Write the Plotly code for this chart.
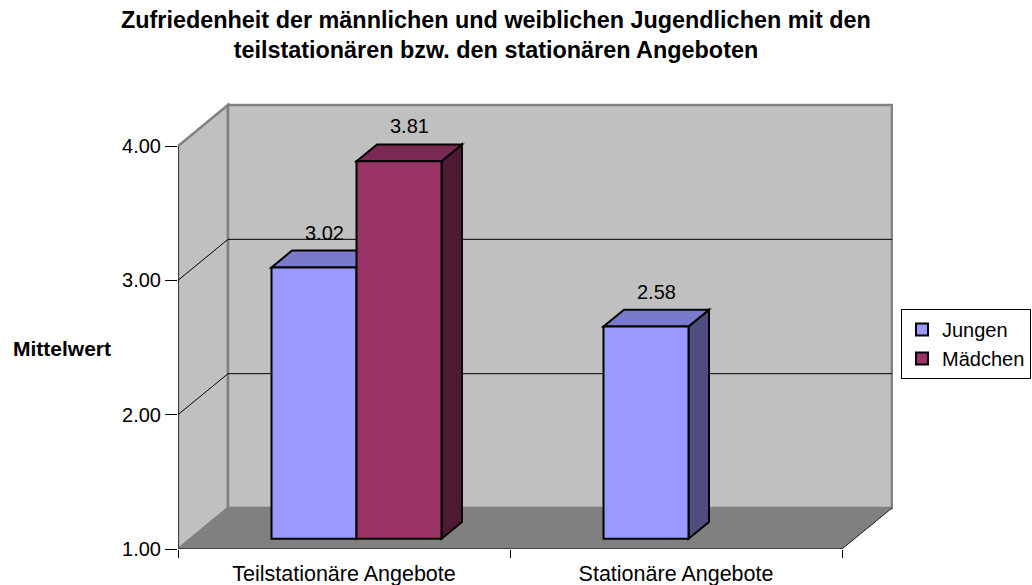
import plotly.graph_objects as go

# ---------------- data ----------------
categories = ["Teilstationäre Angebote", "Stationäre Angebote"]
series_names = ["Jungen", "Mädchen"]
jungen = [3.02, 2.58]
maedchen = [3.81, None]
y_ticks = [1, 2, 3, 4]
title_lines = ["Zufriedenheit der männlichen und weiblichen Jugendlichen mit den",
               "teilstationären bzw. den stationären Angeboten"]
y_title = "Mittelwert"

# ---------------- styling / geometry ----------------
W, H = 1032, 585
ML, MR, MT, MB = 178, 139, 102, 36
PX_CAT = 332.0          # pixels per category on the front plane
PX_UNIT = 134.33        # pixels per value unit
plot_w = W - ML - MR
plot_h = H - MT - MB
x_min = -0.5
x_max = x_min + plot_w / PX_CAT
y_min = 1.0
y_max = y_min + plot_h / PX_UNIT
DX = 50 / PX_CAT        # full depth, x direction (data units)
DY = 41 / PX_UNIT       # full depth, y direction (data units)
F0, F1 = 0.25, 0.66     # bar depth (front/back fraction)
BW = 85 / PX_CAT        # bar width
FONT = "Liberation Sans, Arial, sans-serif"

front_cols = ["#9999FF", "#993366"]
top_cols = ["#7A7ACC", "#7A2952"]
side_cols = ["#4D4D80", "#4D1A33"]
WALL = "#C0C0C0"
FLOOR = "#808080"
EDGE = "#808080"

series = [jungen, maedchen]
n_cat = len(categories)
x0, x1 = -0.5, n_cat - 0.5
y0, y1 = min(y_ticks), max(y_ticks)


def path(pts):
    return "M " + " L ".join(f"{px},{py}" for px, py in pts) + " Z"


shapes = []
# side wall
shapes.append(dict(type="path", xref="x", yref="y", layer="below",
                   path=path([(x0, y0), (x0, y1), (x0 + DX, y1 + DY), (x0 + DX, y0 + DY)]),
                   fillcolor=WALL, line=dict(color=EDGE, width=2.5)))
# back wall
shapes.append(dict(type="rect", xref="x", yref="y", layer="below",
                   x0=x0 + DX, x1=x1 + DX, y0=y0 + DY, y1=y1 + DY,
                   fillcolor=WALL, line=dict(color=EDGE, width=2.5)))
# floor
shapes.append(dict(type="path", xref="x", yref="y", layer="below",
                   path=path([(x0, y0), (x1, y0), (x1 + DX, y0 + DY), (x0 + DX, y0 + DY)]),
                   fillcolor=FLOOR, line=dict(width=0)))
# floor right edge
shapes.append(dict(type="line", xref="x", yref="y", layer="below",
                   x0=x1, y0=y0, x1=x1 + DX, y1=y0 + DY, line=dict(color="#222222", width=1)))
# gridlines
for v in y_ticks[1:-1]:
    shapes.append(dict(type="line", xref="x", yref="y", layer="below",
                       x0=x0, y0=v, x1=x0 + DX, y1=v + DY, line=dict(color="black", width=1)))
    shapes.append(dict(type="line", xref="x", yref="y", layer="below",
                       x0=x0 + DX, y0=v + DY, x1=x1 + DX, y1=v + DY, line=dict(color="black", width=1)))
# front axis lines
shapes.append(dict(type="line", xref="x", yref="y", layer="below",
                   x0=x0, y0=y0, x1=x1, y1=y0, line=dict(color="black", width=1)))
shapes.append(dict(type="line", xref="x", yref="y", layer="below",
                   x0=x0, y0=y0, x1=x0, y1=y1, line=dict(color="black", width=1)))

fig = go.Figure()
annotations = []
base = 1 + F0 * DY
dDX = (F1 - F0) * DX
dDY = (F1 - F0) * DY
for s, vals in enumerate(series):
    centers, heights, bases = [], [], []
    for i, v in enumerate(vals):
        c = i + F0 * DX
        xl = c - BW + s * BW
        xr = xl + BW
        centers.append(xl + BW / 2)
        bases.append(base)
        if v is None:
            heights.append(None)
            continue
        heights.append(v - 1)
        top = v + F0 * DY
        # side face
        shapes.append(dict(type="path", xref="x", yref="y", layer="below",
                           path=path([(xr, base), (xr, top), (xr + dDX, top + dDY), (xr + dDX, base + dDY)]),
                           fillcolor=side_cols[s], line=dict(color="black", width=2)))
        # top face
        shapes.append(dict(type="path", xref="x", yref="y", layer="below",
                           path=path([(xl, top), (xr, top), (xr + dDX, top + dDY), (xl + dDX, top + dDY)]),
                           fillcolor=top_cols[s], line=dict(color="black", width=2)))
        annotations.append(dict(x=(xl + xr) / 2 + dDX / 2, y=v + F1 * DY, xref="x", yref="y",
                                text=f"{v:.2f}", showarrow=False, xanchor="center",
                                yanchor="bottom", yshift=5,
                                font=dict(size=20, color="black", family=FONT)))
    fig.add_trace(go.Bar(x=centers, y=heights, base=bases, width=BW, name=series_names[s],
                         marker=dict(color=front_cols[s], line=dict(color="black", width=2)),
                         hoverinfo="skip"))

# title (as annotation for precise placement)
annotations.append(dict(text="<b>" + "<br>".join(title_lines) + "</b>", xref="paper", yref="paper",
                        x=(496 - ML) / plot_w, xanchor="center",
                        y=(H - MB - 5) / plot_h, yanchor="top", showarrow=False,
                        font=dict(size=23.4, family=FONT, color="black")))
# y-axis title (horizontal)
annotations.append(dict(text="<b>" + y_title + "</b>", xref="paper", yref="paper",
                        x=(11 - ML) / plot_w, xanchor="left",
                        y=(H - MB - 348) / plot_h, yanchor="middle",
                        showarrow=False, font=dict(size=21, family=FONT, color="black")))

fig.update_layout(
    width=W, height=H,
    margin=dict(l=ML, r=MR, t=MT, b=MB, autoexpand=False),
    paper_bgcolor="white", plot_bgcolor="rgba(0,0,0,0)",
    barmode="overlay",
    font=dict(family=FONT, color="black", size=20),
    shapes=shapes,
    annotations=annotations,
    xaxis=dict(range=[x_min, x_max], tickmode="array", tickvals=list(range(n_cat)),
               ticktext=categories, ticks="", showline=False, showgrid=False, zeroline=False,
               tickfont=dict(size=21.5), ticklabelstandoff=9,
               minor=dict(tickmode="array", tickvals=[i - 0.5 for i in range(n_cat + 1)],
                          ticks="outside", ticklen=8, tickcolor="black", tickwidth=1, showgrid=False),
               fixedrange=True),
    yaxis=dict(range=[y_min, y_max], tickmode="array", tickvals=y_ticks,
               ticktext=[f"{v:.2f}" for v in y_ticks], ticks="outside", ticklen=12,
               tickcolor="black", tickwidth=1, showline=False, showgrid=False, zeroline=False,
               tickfont=dict(size=20), fixedrange=True),
    legend=dict(font=dict(size=20), bordercolor="black", borderwidth=1, bgcolor="white",
                xref="container", x=1031 / W, xanchor="right",
                yref="container", y=1 - 309 / H, yanchor="top",
                itemwidth=30, traceorder="normal"),
)

fig.write_html("out.html", config={"displayModeBar": False},
               post_script="document.body.style.margin='0';document.body.style.overflow='hidden';")
